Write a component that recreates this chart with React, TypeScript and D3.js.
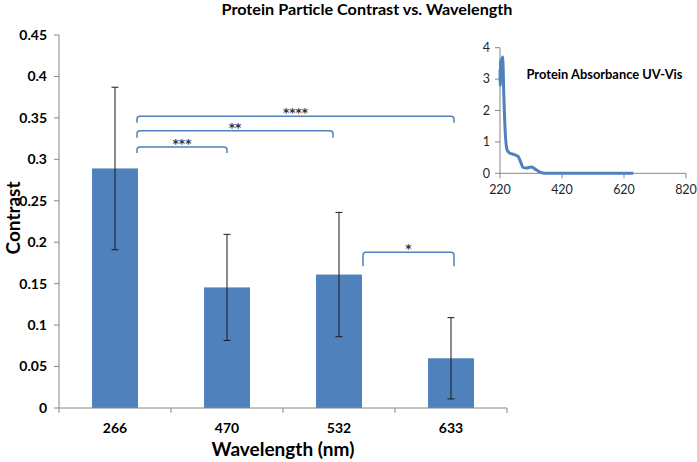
import React from "react";
import * as d3 from "d3";

const categories = ["266", "470", "532", "633"];
const contrast = [0.289, 0.1455, 0.161, 0.06];
const errors = [0.098, 0.064, 0.075, 0.049];
const yTicks = [0, 0.05, 0.1, 0.15, 0.2, 0.25, 0.3, 0.35, 0.4, 0.45];

// significance brackets: from category, to category, label, bracket height (contrast units)
const bracketFrom = ["266", "266", "266", "532"];
const bracketTo = ["470", "532", "633", "633"];
const bracketLabels = ["***", "**", "****", "*"];
const bracketLevels = [0.315, 0.3345, 0.352, 0.188];

// inset spectrum
const specWavelength = [220, 221, 222, 223, 224, 225, 226, 227, 228, 230, 232, 234, 236, 240, 244, 252, 265, 279, 287, 295, 305, 322, 335, 349, 365, 420, 520, 620, 650];
const specAbsorbance = [3.3, 2.8, 3.6, 2.9, 3.65, 3.0, 3.6, 3.2, 3.7, 3.4, 2.6, 2.0, 1.5, 0.9, 0.72, 0.64, 0.6, 0.53, 0.35, 0.18, 0.17, 0.2, 0.12, 0.04, 0.0, 0.0, 0.0, 0.0, 0.0];
const insetXTicks = [220, 420, 620, 820];
const insetYTicks = [0, 1, 2, 3, 4];

const FONT = "Lato, 'Open Sans', sans-serif";
const BLUE = "#4F81BD";
const AXIS = "#868686";

export default function App() {
  const W = 697, H = 462;
  const x = d3.scaleBand<string>().domain(categories).range([59, 507]).paddingInner(0.59).paddingOuter(0.295);
  const step = x.step();
  const y = d3.scaleLinear().domain([0, 0.45]).range([408, 35]);
  const center = (c: string) => (x(c) as number) + x.bandwidth() / 2;

  const ix = d3.scaleLinear().domain([220, 820]).range([500, 686]);
  const iy = d3.scaleLinear().domain([0, 4]).range([173.3, 47.7]);
  const line = d3.line<number>().x((_, i) => ix(specWavelength[i])).y((d) => iy(d)).curve(d3.curveMonotoneX);

  const bracketStartOff = [22, 22, 22, 24];
  const bracketEndOff = [0, -6, 3, 3];
  const bracketLeg = [6, 7, 6.5, 14];

  const boundaries = d3.range(categories.length + 1).map((i) => 59 + i * step);

  return (
    <svg width={W} height={H} style={{ position: "absolute", left: 0, top: 0, background: "#fff" }} fontFamily={FONT}>
      <rect x={0} y={0} width={W} height={H} fill="#fff" />
      <text x={367} y={15} textAnchor="middle" fontSize={15.5} fontWeight="bold" fill="#000" textLength={291} lengthAdjust="spacingAndGlyphs">
        Protein Particle Contrast vs. Wavelength
      </text>

      {/* y axis */}
      <line x1={59} x2={59} y1={y(0.45)} y2={y(0)} stroke={AXIS} strokeWidth={1} />
      {yTicks.map((t) => (
        <g key={t}>
          <line x1={54} x2={59} y1={y(t)} y2={y(t)} stroke={AXIS} />
          <text x={47} y={y(t)} dy="0.35em" textAnchor="end" fontSize={14} fontWeight="bold" fill="#000">
            {String(t)}
          </text>
        </g>
      ))}
      <text transform={`translate(20,218) rotate(-90)`} textAnchor="middle" fontSize={19} fontWeight="bold" fill="#000">
        Contrast
      </text>

      {/* bars */}
      {categories.map((c, i) => (
        <rect key={c} x={x(c)} width={x.bandwidth()} y={y(contrast[i])} height={y(0) - y(contrast[i])} fill={BLUE} />
      ))}

      {/* x axis */}
      <line x1={59} x2={507} y1={408} y2={408} stroke={AXIS} />
      {boundaries.map((b) => (
        <line key={b} x1={b} x2={b} y1={408} y2={413} stroke={AXIS} />
      ))}
      {categories.map((c) => (
        <text key={c} x={center(c)} y={433} textAnchor="middle" fontSize={14} fontWeight="bold" fill="#000">
          {c}
        </text>
      ))}
      <text x={283} y={456} textAnchor="middle" fontSize={19} fontWeight="bold" fill="#000">
        Wavelength (nm)
      </text>

      {/* error bars */}
      {categories.map((c, i) => {
        const cx = center(c);
        const top = y(contrast[i] + errors[i]);
        const bot = y(contrast[i] - errors[i]);
        return (
          <g key={c} stroke="#1a1a1a" strokeWidth={1}>
            <line x1={cx} x2={cx} y1={top} y2={bot} />
            <line x1={cx - 3.5} x2={cx + 3.5} y1={top} y2={top} />
            <line x1={cx - 3.5} x2={cx + 3.5} y1={bot} y2={bot} />
          </g>
        );
      })}

      {/* significance brackets */}
      {bracketLabels.map((lab, i) => {
        const x1 = center(bracketFrom[i]) + bracketStartOff[i];
        const x2 = center(bracketTo[i]) + bracketEndOff[i];
        const yy = y(bracketLevels[i]);
        const leg = bracketLeg[i];
        const r = 3;
        const d = `M${x1},${yy + leg} L${x1},${yy + r} Q${x1},${yy} ${x1 + r},${yy} L${x2 - r},${yy} Q${x2},${yy} ${x2},${yy + r} L${x2},${yy + leg}`;
        return (
          <g key={i}>
            <path d={d} fill="none" stroke={BLUE} strokeWidth={1.5} />
            <text x={(x1 + x2) / 2} y={yy + 1} textAnchor="middle" fontSize={12} fontWeight="bold" fill="#333" fontFamily="'DejaVu Sans', sans-serif">
              {lab}
            </text>
          </g>
        );
      })}

      {/* inset */}
      <line x1={500} x2={500} y1={iy(4)} y2={iy(0)} stroke={AXIS} />
      {insetYTicks.map((t) => (
        <g key={t}>
          <line x1={495} x2={500} y1={iy(t)} y2={iy(t)} stroke={AXIS} />
          <text x={490} y={iy(t)} dy="0.35em" textAnchor="end" fontSize={12.5} fill="#262626">
            {t}
          </text>
        </g>
      ))}
      <line x1={500} x2={686} y1={iy(0)} y2={iy(0)} stroke={AXIS} />
      {insetXTicks.map((t) => (
        <g key={t}>
          <line x1={ix(t)} x2={ix(t)} y1={iy(0)} y2={iy(0) + 5} stroke={AXIS} />
          <text x={ix(t)} y={194} textAnchor="middle" fontSize={12.5} fill="#262626">
            {t}
          </text>
        </g>
      ))}
      <path d={line(specAbsorbance) || ""} fill="none" stroke={BLUE} strokeWidth={3} strokeLinejoin="round" />
      <text x={604.5} y={78.5} textAnchor="middle" fontSize={13} fontWeight="bold" fill="#000" textLength={156} lengthAdjust="spacingAndGlyphs">
        Protein Absorbance UV-Vis
      </text>
    </svg>
  );
}
